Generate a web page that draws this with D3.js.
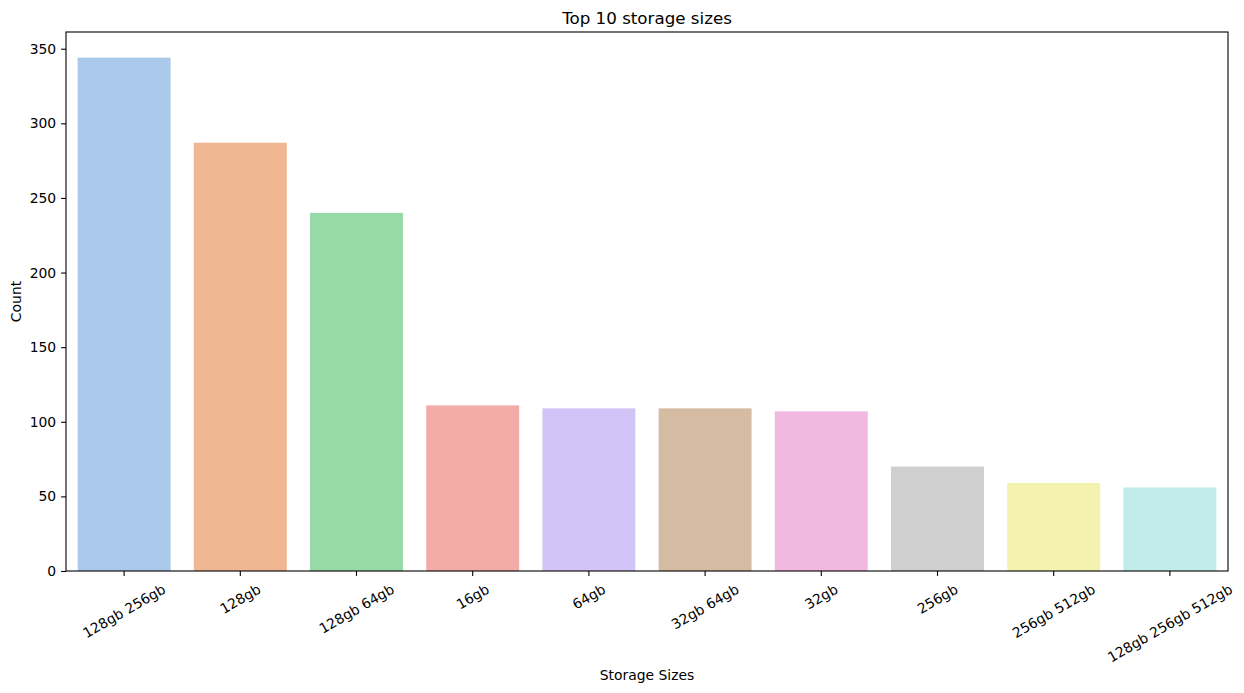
<!DOCTYPE html>
<html>
<head>
<meta charset="utf-8">
<script src="https://cdn.jsdelivr.net/npm/d3@7"></script>
<style>
  body { margin: 0; background: #fff; }
  text { font-family: "DejaVu Sans", sans-serif; fill: #000; }
</style>
</head>
<body>
<div id="chart"></div>
<script>
// Data
var categories = ["128gb 256gb", "128gb", "128gb 64gb", "16gb", "64gb", "32gb 64gb", "32gb", "256gb", "256gb 512gb", "128gb 256gb 512gb"];
var counts = [344, 287, 240, 111, 109, 109, 107, 70, 59, 56];
var yTicks = [0, 50, 100, 150, 200, 250, 300, 350];
var palette = ["#a1c9f4", "#ffb482", "#8de5a1", "#ff9f9b", "#d0bbff", "#debb9b", "#fab0e4", "#cfcfcf", "#fffea3", "#b9f2f0"];

function draw() {
  var W = 1244, H = 693;
  var plotLeft = 66, plotRight = 1228, plotTop = 32, plotBottom = 571;

  var svg = d3.select("#chart").append("svg")
    .attr("width", W)
    .attr("height", H);

  var x = d3.scaleBand()
    .domain(categories)
    .range([plotLeft, plotRight])
    .paddingInner(0.2)
    .paddingOuter(0.1);

  var y = d3.scaleLinear()
    .domain([0, d3.max(counts) * 1.05])
    .range([plotBottom, plotTop]);

  // seaborn desaturates the palette to 0.75
  function desat(c) {
    var h = d3.hsl(c);
    h.s *= 0.75;
    return h.formatHex();
  }

  // Bars
  svg.append("g").selectAll("rect")
    .data(counts)
    .enter().append("rect")
    .attr("x", function(d, i) { return x(categories[i]); })
    .attr("y", function(d) { return y(d); })
    .attr("width", x.bandwidth())
    .attr("height", function(d) { return y(0) - y(d); })
    .style("fill", function(d, i) { return desat(palette[i]); });

  var tickLen = 4.9, pad = 4.9;

  // Y axis
  var yAxis = svg.append("g")
    .attr("transform", "translate(" + plotLeft + ",0)")
    .call(d3.axisLeft(y).tickValues(yTicks).tickSize(tickLen).tickPadding(pad).tickSizeOuter(0));
  yAxis.select(".domain").remove();
  yAxis.selectAll("line").attr("stroke", "#000").attr("stroke-width", 1.1);
  yAxis.selectAll("text")
    .style("font-family", "DejaVu Sans")
    .style("font-size", "13.9px");

  // X axis
  var xAxis = svg.append("g")
    .attr("transform", "translate(0," + plotBottom + ")")
    .call(d3.axisBottom(x).tickSize(tickLen).tickSizeOuter(0));
  xAxis.select(".domain").remove();
  xAxis.selectAll("line").attr("stroke", "#000").attr("stroke-width", 1.1);

  // rotated tick labels, centred on the tick like matplotlib rotation=30
  xAxis.selectAll(".tick text").each(function(d) {
    var t = d3.select(this)
      .style("font-family", "DejaVu Sans")
      .style("font-size", "13.9px")
      .attr("y", 0)
      .attr("dy", null)
      .attr("text-anchor", "middle")
      .attr("dominant-baseline", "central");
    var w = this.getComputedTextLength();
    var h = 13.9 * 1.16;
    var bh = w * 0.5 + h * Math.cos(Math.PI / 6);
    var cy = tickLen + pad + bh / 2;
    t.attr("transform", "translate(0," + cy + ") rotate(-30)");
  });

  // Frame
  svg.append("rect")
    .attr("x", plotLeft)
    .attr("y", plotTop)
    .attr("width", plotRight - plotLeft)
    .attr("height", plotBottom - plotTop)
    .style("fill", "none")
    .style("stroke", "#000")
    .style("stroke-width", 1.1);

  // Labels
  svg.append("text")
    .attr("x", (plotLeft + plotRight) / 2)
    .attr("y", 24)
    .attr("text-anchor", "middle")
    .style("font-size", "16.7px")
    .text("Top 10 storage sizes");

  svg.append("text")
    .attr("x", (plotLeft + plotRight) / 2)
    .attr("y", 680)
    .attr("text-anchor", "middle")
    .style("font-size", "13.9px")
    .text("Storage Sizes");

  svg.append("text")
    .attr("transform", "translate(21," + (plotTop + plotBottom) / 2 + ") rotate(-90)")
    .attr("text-anchor", "middle")
    .style("font-size", "13.9px")
    .text("Count");
}

draw();
</script>
</body>
</html>
